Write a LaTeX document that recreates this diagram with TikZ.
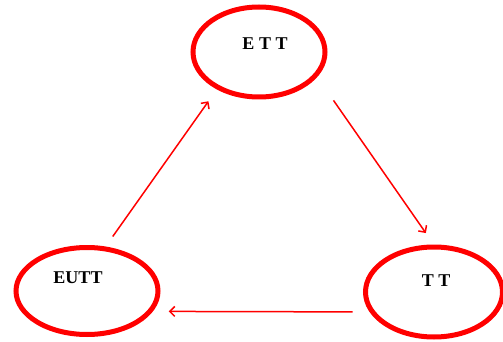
\documentclass[tikz,border=0pt]{standalone}
\usepackage{fontspec}
\setmainfont{Liberation Serif}
\usetikzlibrary{shapes.geometric,arrows.meta}
\begin{document}
\begin{tikzpicture}[x=1pt,y=-1pt,
  state/.style={ellipse,draw=red,line width=5pt,inner sep=0pt,outer sep=0pt},
  lbl/.style={font=\fontsize{18}{20}\selectfont\bfseries,inner sep=0pt},
  conn/.style={draw=red,line width=1.5pt,-{Straight Barb[length=5pt,width=10pt,line width=1.5pt]}}]
\useasboundingbox (0,0) rectangle (503,342);
\node[state,minimum width=132pt,minimum height=90pt] (ett) at (259,52) {};
\node[state,minimum width=142pt,minimum height=87pt] (eutt) at (87,291) {};
\node[state,minimum width=137pt,minimum height=90pt] (tt) at (434,292) {};
\node[lbl] (tett) at (265,44) {E T T};
\node[lbl] (teutt) at (78,278) {EUTT};
\node[lbl] (ttt) at (436,281) {T T};
\draw[conn,shorten <=15pt,shorten >=17pt] (eutt.68.3) -- (ett.221.1);
\draw[conn,shorten <=31pt,shorten >=17pt] (ett.-22.6) -- (tt.88.2);
\draw[conn,shorten <=20pt,shorten >=19pt] (tt.198.5) -- (eutt.-18.7);
\end{tikzpicture}
\end{document}
